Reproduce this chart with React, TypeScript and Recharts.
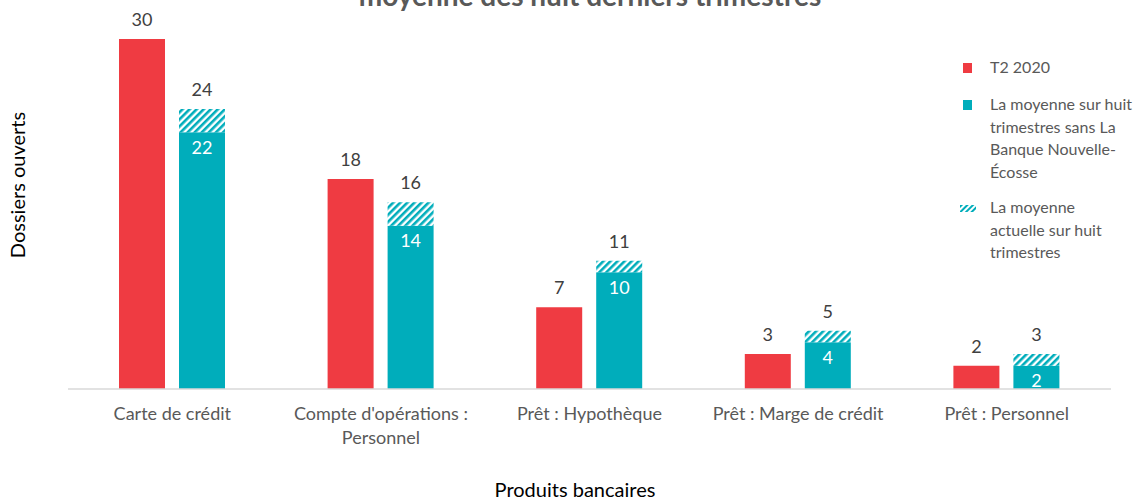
import { BarChart, Bar, XAxis, YAxis, LabelList, Text } from "recharts";

const categories = [
    "Carte de crédit",
    "Compte d'opérations : Personnel",
    "Prêt : Hypothèque",
    "Prêt : Marge de crédit",
    "Prêt : Personnel",
];
const t2Values = [30, 18, 7, 3, 2];
const sansBneValues = [22, 14, 10, 4, 2];
const actuelleValues = [24, 16, 11, 5, 3];

const RED = "#EF3B42";
const TEAL = "#00ADBB";
const FONT = "Lato, 'Open Sans', sans-serif";

const data = categories.map((name, i) => ({
    name,
    t2: t2Values[i],
    sans: sansBneValues[i],
    hatch: actuelleValues[i] - sansBneValues[i],
    actuelle: actuelleValues[i],
}));

const CategoryTick = ({ x, y, payload }: any) => (
    <Text
        x={x}
        y={y + 18}
        width={200}
        textAnchor="middle"
        verticalAnchor="start"
        lineHeight={24}
        fontSize={18}
        fontFamily={FONT}
        fill="#595959"
    >
        {payload.value}
    </Text>
);

const legendText: React.CSSProperties = {
    position: "absolute",
    left: 990,
    fontSize: 16,
    lineHeight: "22.5px",
    color: "#595959",
    fontFamily: FONT,
    whiteSpace: "nowrap",
};

const App = () => {
    return (
        <div style={{ position: "absolute", left: 0, top: 0, width: 1140, height: 500, background: "#fff", fontFamily: FONT }}>
            <BarChart
                width={1140}
                height={500}
                data={data}
                margin={{ top: 39, right: 29, left: 68, bottom: 81 }}
                barSize={46}
                barGap={14}
            >
                <defs>
                    <pattern id="hatch" patternUnits="userSpaceOnUse" width={5} height={5} patternTransform="rotate(45)">
                        <rect x={0} y={0} width={5} height={5} fill="#ffffff" />
                        <rect x={0} y={0} width={2.6} height={5} fill={TEAL} />
                    </pattern>
                </defs>
                <XAxis
                    dataKey="name"
                    axisLine={{ stroke: "#d9d9d9", strokeWidth: 1.5 }}
                    tickLine={false}
                    tickSize={0}
                    tickMargin={0}
                    interval={0}
                    tick={<CategoryTick />}
                />
                <YAxis hide domain={[0, 30]} />
                <Bar dataKey="t2" stackId="a" fill={RED} isAnimationActive={false}>
                    <LabelList dataKey="t2" position="top" offset={13} fill="#404040" fontSize={18} fontFamily={FONT} />
                </Bar>
                <Bar dataKey="sans" stackId="b" fill={TEAL} isAnimationActive={false}>
                    <LabelList dataKey="sans" position="insideTop" offset={9} fill="#ffffff" fontSize={18} fontFamily={FONT} />
                </Bar>
                <Bar dataKey="hatch" stackId="b" fill="url(#hatch)" isAnimationActive={false}>
                    <LabelList dataKey="actuelle" position="top" offset={13} fill="#404040" fontSize={18} fontFamily={FONT} />
                </Bar>
            </BarChart>

            <svg width={1140} height={500} style={{ position: "absolute", left: 0, top: 0, pointerEvents: "none" }}>
                <text x={590} y={6} textAnchor="middle" fontSize={28} fontWeight="bold" fill="#595959" fontFamily={FONT}>
                    moyenne des huit derniers trimestres
                </text>
                <text
                    x={25}
                    y={185}
                    textAnchor="middle"
                    transform="rotate(-90, 25, 185)"
                    fontSize={20}
                    fill="#000"
                    fontFamily={FONT}
                >
                    Dossiers ouverts
                </text>
                <text x={575} y={497} textAnchor="middle" fontSize={20} fill="#000" fontFamily={FONT}>
                    Produits bancaires
                </text>
                <defs>
                    <pattern id="hatchLegend" patternUnits="userSpaceOnUse" width={4} height={4} patternTransform="rotate(45)">
                        <rect x={0} y={0} width={4} height={4} fill="#ffffff" />
                        <rect x={0} y={0} width={2} height={4} fill={TEAL} />
                    </pattern>
                </defs>
                <rect x={963} y={63} width={9} height={10} fill={RED} />
                <rect x={963} y={100} width={9} height={10} fill={TEAL} />
                <rect x={960} y={205} width={16} height={7} fill="url(#hatchLegend)" />
            </svg>

            <div style={{ ...legendText, top: 56 }}>T2 2020</div>
            <div style={{ ...legendText, top: 93 }}>
                La moyenne sur huit
                <br />
                trimestres sans La
                <br />
                Banque Nouvelle-
                <br />
                Écosse
            </div>
            <div style={{ ...legendText, top: 196 }}>
                La moyenne
                <br />
                actuelle sur huit
                <br />
                trimestres
            </div>
        </div>
    );
};

export default App;
